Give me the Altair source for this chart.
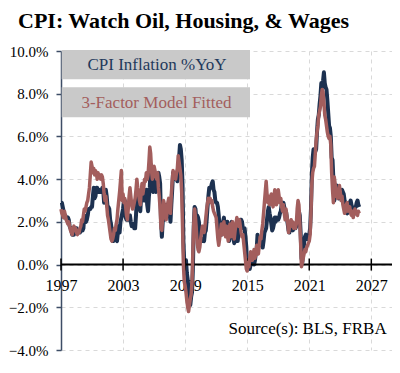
import altair as alt
import pandas as pd

# ---------------- data (monthly, Jan 1997 .. Nov 2025) ----------------
start_year = 1997

cpi_yoy = [
    # 1997
    2.9, 2.9, 2.7, 2.5, 2.2, 2.3, 2.2, 2.2, 2.2, 2.1, 1.8, 1.7,
    # 1998
    1.6, 1.4, 1.4, 1.4, 1.7, 1.7, 1.7, 1.6, 1.5, 1.5, 1.5, 1.6,
    # 1999
    1.7, 1.6, 1.7, 2.3, 2.1, 2.0, 2.1, 2.3, 2.6, 2.6, 2.6, 2.7,
    # 2000
    2.7, 3.2, 3.6, 3.1, 3.2, 3.6, 3.6, 3.4, 3.5, 3.4, 3.4, 3.4,
    # 2001
    3.6, 3.5, 2.9, 3.2, 3.5, 3.2, 2.7, 2.7, 2.6, 2.1, 1.9, 1.6,
    # 2002
    1.1, 1.1, 1.5, 1.6, 1.2, 1.1, 1.5, 1.8, 1.5, 2.0, 2.2, 2.4,
    # 2003
    2.6, 3.0, 3.0, 2.2, 2.1, 2.1, 2.1, 2.2, 2.3, 2.0, 1.8, 1.9,
    # 2004
    1.9, 1.7, 1.7, 2.3, 3.1, 3.3, 3.0, 2.7, 2.5, 3.2, 3.5, 3.3,
    # 2005
    3.0, 3.0, 3.1, 3.5, 2.8, 2.5, 3.2, 3.6, 4.7, 4.3, 3.5, 3.4,
    # 2006
    4.0, 3.6, 3.4, 3.5, 4.2, 4.3, 4.1, 3.8, 2.1, 1.3, 2.0, 2.5,
    # 2007
    2.1, 2.4, 2.8, 2.6, 2.7, 2.7, 2.4, 2.0, 2.8, 3.5, 4.3, 4.1,
    # 2008
    4.3, 4.0, 4.0, 3.9, 4.2, 5.0, 5.6, 5.4, 4.9, 3.7, 1.1, 0.1,
    # 2009
    0.0, 0.2, -0.4, -0.7, -1.3, -1.4, -1.9, -1.5, -1.3, -0.2, 1.8, 2.7,
    # 2010
    2.6, 2.1, 2.3, 2.2, 2.0, 1.1, 1.2, 1.1, 1.1, 1.2, 1.1, 1.5,
    # 2011
    1.6, 2.1, 2.7, 3.2, 3.6, 3.6, 3.6, 3.8, 3.9, 3.5, 3.4, 3.0,
    # 2012
    2.9, 2.9, 2.7, 2.3, 1.7, 1.7, 1.4, 1.7, 2.0, 2.2, 1.8, 1.7,
    # 2013
    1.6, 2.0, 1.5, 1.1, 1.4, 1.8, 2.0, 1.5, 1.2, 1.0, 1.2, 1.5,
    # 2014
    1.6, 1.1, 1.5, 2.0, 2.1, 2.1, 2.0, 1.7, 1.7, 1.7, 1.3, 0.8,
    # 2015
    -0.1, 0.0, -0.1, -0.2, 0.0, 0.1, 0.2, 0.2, 0.0, 0.2, 0.5, 0.7,
    # 2016
    1.4, 1.0, 0.9, 1.1, 1.0, 1.0, 0.8, 1.1, 1.5, 1.6, 1.7, 2.1,
    # 2017
    2.5, 2.7, 2.4, 2.2, 1.9, 1.6, 1.7, 1.9, 2.2, 2.0, 2.2, 2.1,
    # 2018
    2.1, 2.2, 2.4, 2.5, 2.8, 2.9, 2.9, 2.7, 2.3, 2.5, 2.2, 1.9,
    # 2019
    1.6, 1.5, 1.9, 2.0, 1.8, 1.6, 1.8, 1.7, 1.7, 1.8, 2.1, 2.3,
    # 2020
    2.5, 2.3, 1.5, 0.3, 0.1, 0.6, 1.0, 1.3, 1.4, 1.2, 1.2, 1.4,
    # 2021
    1.4, 1.7, 2.6, 4.2, 5.0, 5.4, 5.4, 5.3, 5.4, 6.2, 6.8, 7.0,
    # 2022
    7.5, 7.9, 8.5, 8.3, 8.6, 9.0, 8.5, 8.3, 8.2, 7.7, 7.1, 6.5,
    # 2023
    6.4, 6.0, 5.0, 4.9, 4.0, 3.0, 3.2, 3.7, 3.7, 3.2, 3.1, 3.4,
    # 2024
    3.1, 3.2, 3.5, 3.4, 3.3, 3.0, 2.9, 2.5, 2.4, 2.6, 2.7, 2.9,
    # 2025
    3.0, 2.8, 2.4, 2.3, 2.4, 2.7, 2.7, 2.9, 3.0, 2.8, 2.7,
]

model_fitted = [
    # 1997
    2.6, 2.4, 2.3, 2.2, 2.5, 2.3, 2.1, 2.0, 1.9, 2.0, 1.8, 1.6,
    # 1998
    1.5, 1.4, 1.7, 1.8, 1.6, 1.7, 1.5, 1.4, 1.6, 1.5, 1.7, 1.8,
    # 1999
    2.1, 2.0, 2.3, 2.6, 2.5, 2.7, 2.9, 3.0, 3.3, 3.6, 4.2, 4.8,
    # 2000
    4.6, 4.3, 4.5, 4.2, 4.4, 4.3, 4.0, 4.3, 4.1, 4.2, 4.0, 4.2,
    # 2001
    4.1, 3.8, 3.3, 3.0, 3.2, 2.8, 2.3, 2.1, 1.8, 1.5, 1.2, 1.1,
    # 2002
    1.2, 1.4, 1.7, 1.6, 1.9, 2.1, 2.6, 3.0, 3.4, 3.9, 4.4, 3.0,
    # 2003
    3.3, 2.9, 3.1, 2.7, 2.3, 2.1, 2.6, 3.2, 3.6, 3.2, 2.8, 2.6,
    # 2004
    2.7, 2.9, 3.1, 3.5, 4.0, 3.6, 3.3, 3.0, 2.8, 3.4, 3.8, 3.3,
    # 2005
    3.6, 4.0, 3.9, 4.3, 4.0, 4.2, 4.8, 5.5, 5.2, 4.4, 4.0, 4.2,
    # 2006
    4.6, 4.4, 4.2, 4.0, 4.3, 3.6, 3.2, 2.6, 1.7, 1.6, 2.3, 3.0,
    # 2007
    2.8, 2.5, 2.1, 2.4, 2.9, 3.1, 2.7, 2.4, 3.3, 3.9, 4.4, 4.2,
    # 2008
    4.1, 4.0, 4.3, 4.5, 5.1, 4.8, 4.5, 4.2, 3.4, 1.8, 0.0, -0.8,
    # 2009
    -1.0, -1.3, -1.7, -2.0, -2.2, -1.9, -1.6, -1.4, -0.8, 0.6, 1.9, 2.6,
    # 2010
    2.2, 1.6, 1.0, 0.7, 0.6, 0.8, 1.2, 1.5, 1.8, 1.6, 1.5, 1.8,
    # 2011
    2.2, 2.6, 2.9, 3.1, 3.0, 3.1, 2.9, 3.0, 2.7, 2.5, 2.4, 2.3,
    # 2012
    2.2, 1.7, 1.2, 0.9, 1.2, 1.5, 1.9, 1.4, 1.7, 2.0, 1.5, 1.3,
    # 2013
    1.8, 1.4, 1.1, 1.6, 1.9, 1.3, 1.7, 2.0, 1.5, 1.2, 1.6, 1.9,
    # 2014
    2.2, 2.0, 1.8, 2.1, 1.8, 1.5, 1.3, 1.4, 1.0, 0.6, 0.2, -0.2,
    # 2015
    -0.3, 0.1, -0.1, 0.3, 0.6, 0.4, 0.2, 0.5, 0.7, 0.3, 0.5, 0.9,
    # 2016
    0.8, 0.5, 0.9, 1.3, 1.2, 1.6, 1.9, 2.4, 2.9, 3.4, 3.9, 3.3,
    # 2017
    2.9, 3.2, 2.8, 3.0, 3.3, 2.9, 2.7, 3.1, 3.5, 3.2, 2.8, 3.0,
    # 2018
    3.5, 3.2, 2.9, 3.1, 2.7, 2.5, 2.8, 2.4, 2.1, 2.6, 2.3, 2.0,
    # 2019
    1.5, 1.7, 1.9, 2.1, 1.8, 2.0, 1.7, 1.9, 1.7, 1.9, 2.6, 3.0,
    # 2020
    2.8, 2.0, 1.0, -0.1, 0.1, 0.3, 0.5, 0.7, 0.6, 0.8, 0.9, 1.0,
    # 2021
    1.1, 1.4, 2.4, 3.8, 4.3, 4.5, 4.6, 5.2, 5.8, 6.2, 6.5, 7.0,
    # 2022
    7.2, 7.4, 7.9, 8.2, 8.1, 7.6, 7.0, 6.8, 6.5, 6.2, 6.0, 5.9,
    # 2023
    6.0, 5.6, 4.3, 3.5, 2.9, 4.1, 3.8, 3.2, 3.4, 3.1, 3.5, 3.7,
    # 2024
    3.4, 3.0, 3.2, 2.8, 2.6, 2.4, 2.5, 2.8, 2.9, 2.5, 2.6, 2.7,
    # 2025
    2.4, 2.3, 2.5, 2.2, 2.4, 2.6, 2.4, 2.5, 2.3, 2.5, 2.4,
]

x_ticks = [1997, 2003, 2009, 2015, 2021, 2027]
y_ticks = [-4, -2, 0, 2, 4, 6, 8, 10]
series_names = ["CPI Inflation %YoY", "3-Factor Model Fitted"]
title_text = "CPI: Watch Oil, Housing, & Wages"
source_text = "Source(s): BLS, FRBA"

# ---------------- build tables ----------------
t = [start_year + i / 12 for i in range(len(cpi_yoy))]
df_cpi = pd.DataFrame({"t": t, "v": cpi_yoy})
df_fit = pd.DataFrame({"t": t, "v": model_fitted})
df_ticks = pd.DataFrame({"t": x_ticks})
one = pd.DataFrame({"a": [0]})

W, H = 331, 299
Y_MIN, Y_MAX = -4, 10
zero_px = H * Y_MAX / (Y_MAX - Y_MIN)

NAVY = "#1d3150"
RED = "#a35e5d"
FONT = "Liberation Serif"

xscale = alt.Scale(domain=[1997, 2029], nice=False, zero=False)
yscale = alt.Scale(domain=[Y_MIN, Y_MAX], nice=False, zero=False)

x_axis = alt.Axis(
    values=x_ticks, format="d", grid=True, gridDash=[4, 4], gridColor="#d9d9d9",
    ticks=False, domain=False, offset=-(H - zero_px), labelPadding=13,
    labelFont=FONT, labelFontSize=16, labelColor="#000000", title="",
    labelFlush=False, labelOverlap=False,
)
y_axis = alt.Axis(
    values=y_ticks, grid=True, gridDash=[4, 4], gridColor="#d9d9d9",
    labelExpr="format(datum.value, '.1f') + '%'",
    domainColor="#3d4d66", domainWidth=1.5, tickColor="#3d4d66", tickWidth=1.5,
    tickSize=5, labelPadding=8, labelFont=FONT, labelFontSize=15,
    labelColor="#000000", title="",
)

base_cpi = alt.Chart(df_cpi).mark_line(color=NAVY, strokeWidth=4, strokeJoin="round").encode(
    x=alt.X("t:Q", scale=xscale, axis=x_axis),
    y=alt.Y("v:Q", scale=yscale, axis=y_axis),
)
fit_line = alt.Chart(df_fit).mark_line(color=RED, strokeWidth=3.5, strokeJoin="round").encode(
    x=alt.X("t:Q", scale=xscale),
    y=alt.Y("v:Q", scale=yscale),
)

zero_rule = alt.Chart(one).mark_rule(color="#000000", strokeWidth=2).encode(
    y=alt.datum(0), x=alt.value(0), x2=alt.value(W)
)
tick_marks = alt.Chart(df_ticks).mark_rule(color="#000000", strokeWidth=1.5).encode(
    x=alt.X("t:Q", scale=xscale),
    y=alt.value(zero_px - 6), y2=alt.value(zero_px + 6),
)

box1 = alt.Chart(one).mark_rect(color="#c9c9c9").encode(
    x=alt.value(0.7), x2=alt.value(189), y=alt.value(-1), y2=alt.value(28.3)
)
box2 = alt.Chart(one).mark_rect(color="#c9c9c9").encode(
    x=alt.value(0.7), x2=alt.value(189), y=alt.value(36.3), y2=alt.value(66.3)
)
leg1 = alt.Chart(one).mark_text(
    text=series_names[0], font=FONT, fontSize=17, color="#1f3a5c",
    align="center", baseline="middle"
).encode(x=alt.value(96), y=alt.value(14))
leg2 = alt.Chart(one).mark_text(
    text=series_names[1], font=FONT, fontSize=17, color=RED,
    align="center", baseline="middle"
).encode(x=alt.value(95.5), y=alt.value(51.5))

title = alt.Chart(one).mark_text(
    text=title_text, font=FONT, fontSize=22, fontWeight="bold", color="#000000",
    align="left", baseline="alphabetic"
).encode(x=alt.value(-43), y=alt.value(-22.7))

source = alt.Chart(one).mark_text(
    text=source_text, font=FONT, fontSize=17, color="#000000",
    align="right", baseline="alphabetic"
).encode(x=alt.value(325.7), y=alt.value(283))

chart = alt.layer(
    base_cpi, zero_rule, tick_marks, fit_line, box1, box2, leg1, leg2, title, source
).properties(
    width=W, height=H,
    autosize=alt.AutoSizeParams(type="none"),
    padding={"left": 53, "top": 43, "right": 0, "bottom": 7},
).configure_view(strokeOpacity=0)

chart.save("out.html", embed_options={"renderer": "svg", "actions": False})
